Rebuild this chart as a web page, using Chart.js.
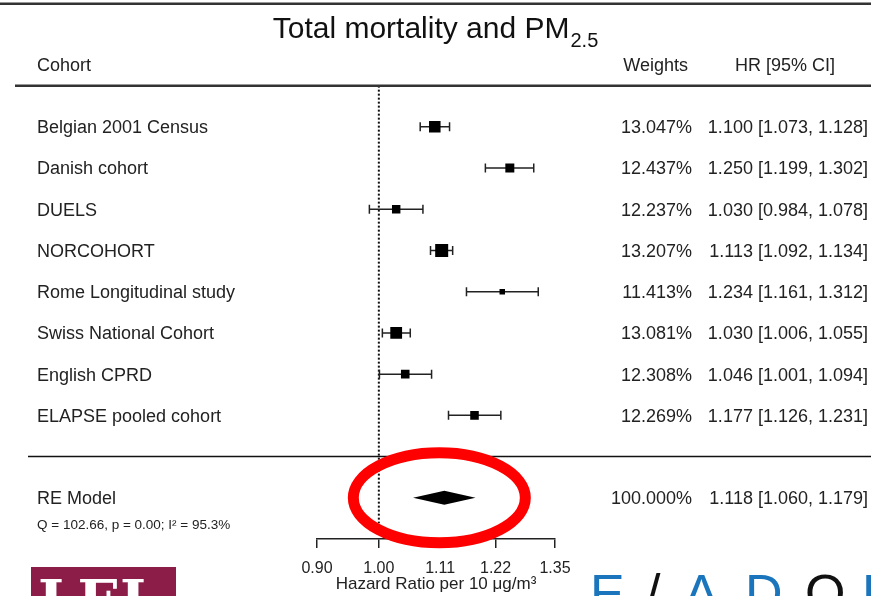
<!DOCTYPE html>
<html>
<head>
<meta charset="utf-8">
<title>Total mortality and PM2.5</title>
<script src="https://cdn.jsdelivr.net/npm/chart.js@4.4.1/dist/chart.umd.min.js"></script>
<style>
  html, body { margin: 0; padding: 0; background: #fff; }
  canvas { display: block; }
</style>
</head>
<body>
<canvas id="forest" width="871" height="596"></canvas>
<script>
const cohorts = ['Belgian 2001 Census', 'Danish cohort', 'DUELS', 'NORCOHORT',
    'Rome Longitudinal study', 'Swiss National Cohort', 'English CPRD', 'ELAPSE pooled cohort'];
const weights = [13.047, 12.437, 12.237, 13.207, 11.413, 13.081, 12.308, 12.269];
const hazardRatios = [1.100, 1.250, 1.030, 1.113, 1.234, 1.030, 1.046, 1.177];
const ciLower = [1.073, 1.199, 0.984, 1.092, 1.161, 1.006, 1.001, 1.126];
const ciUpper = [1.128, 1.302, 1.078, 1.134, 1.312, 1.055, 1.094, 1.231];

const reLabel = 'RE Model';
const reWeight = 100.000;
const reEstimate = 1.118;
const reLower = 1.060;
const reUpper = 1.179;
const reStats = 'Q = 102.66, p = 0.00; I\u00B2 = 95.3%';

const xTicks = [0.90, 1.00, 1.11, 1.22, 1.35];

const FONT = '"Liberation Sans", Arial, sans-serif';
const INK = '#222';

/** square size from the precision of each estimate (bigger box = narrower CI) */
function getPointRadii() {
    const prec = cohorts.map((c, i) => 1 / (Math.log(ciUpper[i]) - Math.log(ciLower[i])));
    const lo = Math.min(...prec);
    const hi = Math.max(...prec);
    return prec.map(p => (5.5 + 7.5 * Math.sqrt((p - lo) / (hi - lo))) / Math.SQRT2);
}

function fmtCI(est, lo, hi) {
    return est.toFixed(3) + ' [' + lo.toFixed(3) + ', ' + hi.toFixed(3) + ']';
}

function text(ctx, str, x, y, align, size) {
    ctx.font = size + 'px ' + FONT;
    ctx.textAlign = align;
    ctx.textBaseline = 'alphabetic';
    ctx.fillText(str, x, y);
}

function hline(ctx, x0, x1, y, width, color) {
    ctx.strokeStyle = color;
    ctx.lineWidth = width;
    ctx.beginPath();
    ctx.moveTo(x0, y);
    ctx.lineTo(x1, y);
    ctx.stroke();
}

const forestPlugin = {
    id: 'forest',
    beforeDatasetsDraw(chart) {
        const ctx = chart.ctx;
        const xs = chart.scales.x;
        const ys = chart.scales.y;
        ctx.save();

        // reference line at HR = 1
        ctx.strokeStyle = '#111';
        ctx.lineWidth = 2;
        ctx.setLineDash([2, 2]);
        ctx.beginPath();
        ctx.moveTo(xs.getPixelForValue(1), ys.getPixelForValue(-1));
        ctx.lineTo(xs.getPixelForValue(1), ys.getPixelForValue(9.62));
        ctx.stroke();
        ctx.setLineDash([]);

        // confidence intervals
        ctx.strokeStyle = INK;
        ctx.lineWidth = 1.5;
        cohorts.forEach((c, i) => {
            const y = ys.getPixelForValue(i);
            const a = xs.getPixelForValue(ciLower[i]);
            const b = xs.getPixelForValue(ciUpper[i]);
            ctx.beginPath();
            ctx.moveTo(a, y); ctx.lineTo(b, y);
            ctx.moveTo(a, y - 4.5); ctx.lineTo(a, y + 4.5);
            ctx.moveTo(b, y - 4.5); ctx.lineTo(b, y + 4.5);
            ctx.stroke();
        });

        // pooled estimate diamond
        const ry = ys.getPixelForValue(9);
        ctx.fillStyle = '#000';
        ctx.beginPath();
        ctx.moveTo(xs.getPixelForValue(reLower), ry);
        ctx.lineTo(xs.getPixelForValue(reEstimate), ry - 7);
        ctx.lineTo(xs.getPixelForValue(reUpper), ry);
        ctx.lineTo(xs.getPixelForValue(reEstimate), ry + 7);
        ctx.closePath();
        ctx.fill();
        ctx.restore();
    },
    afterDraw(chart) {
        const ctx = chart.ctx;
        const xs = chart.scales.x;
        const ys = chart.scales.y;
        const W = chart.width;
        ctx.save();

        // rules
        hline(ctx, 0, W, ys.getPixelForValue(-3) + 0.5, 2.5, '#333');
        hline(ctx, 15, W, ys.getPixelForValue(-1), 2.5, '#333');
        hline(ctx, 28, W, ys.getPixelForValue(8), 1.5, '#111');

        // title with subscript
        ctx.fillStyle = '#111';
        ctx.font = '30px ' + FONT;
        const main = 'Total mortality and PM';
        const mw = ctx.measureText(main).width;
        ctx.font = '20px ' + FONT;
        const sw = ctx.measureText('2.5').width;
        const tx = 435 - (mw + sw) / 2;
        text(ctx, main, tx, 38, 'left', 30);
        text(ctx, '2.5', tx + mw + 1, 46.5, 'left', 20);

        // column headers
        ctx.fillStyle = INK;
        const hy = ys.getPixelForValue(-1.5) + 6.4;
        text(ctx, 'Cohort', 37, hy, 'left', 18);
        text(ctx, 'Weights', 688, hy, 'right', 18);
        text(ctx, 'HR [95% CI]', 835, hy, 'right', 18);

        // study rows
        cohorts.forEach((c, i) => {
            const y = ys.getPixelForValue(i) + 6.4;
            text(ctx, c, 37, y, 'left', 18);
            text(ctx, weights[i].toFixed(3) + '%', 692, y, 'right', 18);
            text(ctx, fmtCI(hazardRatios[i], ciLower[i], ciUpper[i]), 868, y, 'right', 18);
        });

        // pooled row
        const ry = ys.getPixelForValue(9);
        text(ctx, reLabel, 37, ry + 6.4, 'left', 18);
        text(ctx, reWeight.toFixed(3) + '%', 692, ry + 6.4, 'right', 18);
        text(ctx, fmtCI(reEstimate, reLower, reUpper), 868, ry + 6.4, 'right', 18);
        text(ctx, reStats, 37, ry + 31, 'left', 13.5);

        // red highlight ring
        ctx.strokeStyle = '#ff0000';
        ctx.lineWidth = 11;
        ctx.beginPath();
        ctx.ellipse(xs.getPixelForValue(reEstimate) - 5, ry, 86, 45, 0, 0, Math.PI * 2);
        ctx.stroke();

        // logos cut off at the bottom edge
        ctx.fillStyle = '#8c1d48';
        ctx.fillRect(31, 567, 145, 40);
        ctx.save();
        ctx.beginPath();
        ctx.rect(31, 567, 145, 40);
        ctx.clip();
        ctx.fillStyle = '#fff';
        ctx.font = 'bold 56px "DejaVu Serif", serif';
        ctx.textAlign = 'left';
        ctx.fillText('LEI', 38, 620);
        ctx.restore();

        const logo = [['E', 590, '#1b75bc'], ['/', 646, '#111'], ['A', 684, '#1b75bc'],
            ['D', 745, '#1b75bc'], ['O', 805, '#111'], ['E', 862, '#1b75bc']];
        ctx.font = '52px ' + FONT;
        logo.forEach(l => {
            ctx.fillStyle = l[2];
            ctx.fillText(l[0], l[1], 611);
        });
        ctx.restore();
    }
};

function createForestPlot(element) {
    return new Chart(element, {
        type: 'scatter',
        data: {
            datasets: [{
                data: cohorts.map((c, i) => ({ x: hazardRatios[i], y: i })),
                pointStyle: 'rect',
                pointRadius: getPointRadii(),
                backgroundColor: '#000',
                borderWidth: 0
            }]
        },
        options: {
            responsive: false,
            animation: false,
            events: [],
            layout: { padding: { left: 317, right: 316, top: 3, bottom: 0 } },
            plugins: {
                legend: { display: false },
                tooltip: { enabled: false }
            },
            scales: {
                x: {
                    type: 'logarithmic',
                    position: 'bottom',
                    min: 0.9,
                    max: 1.35,
                    afterBuildTicks: axis => {
                        axis.ticks = xTicks.map(v => ({ value: v }));
                    },
                    afterFit: axis => {
                        axis.height = 57;
                    },
                    grid: { drawOnChartArea: false, tickLength: 9, color: INK, lineWidth: 1.5 },
                    border: { display: true, color: INK, width: 1.5 },
                    ticks: {
                        autoSkip: false,
                        maxRotation: 0,
                        padding: 11,
                        color: INK,
                        font: { family: FONT, size: 16 },
                        callback: v => Number(v).toFixed(2)
                    },
                    title: {
                        display: true,
                        text: 'Hazard Ratio per 10 \u03BCg/m\u00B3',
                        color: INK,
                        font: { family: FONT, size: 17 },
                        padding: { top: 0, bottom: 1 }
                    }
                },
                y: {
                    display: false,
                    min: -2.855,
                    max: 10,
                    reverse: true
                }
            }
        },
        plugins: [forestPlugin]
    });
}

const chart = createForestPlot(document.getElementById('forest'));
</script>
</body>
</html>
